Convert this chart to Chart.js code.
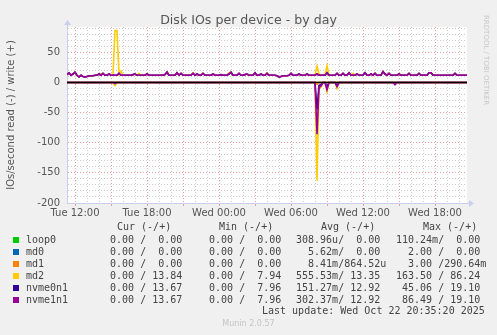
<!DOCTYPE html>
<html>
<head>
<meta charset="utf-8">
<script src="https://cdn.jsdelivr.net/npm/chart.js@4/dist/chart.umd.min.js"></script>
<style>
  body { margin: 0; background: #f0f0f0; }
  #wrap { position: relative; width: 497px; height: 335px; font-family: 'DejaVu Sans', sans-serif; }
  #chart { position: absolute; left: 0; top: 0; }
  .title { position: absolute; left: 0; top: 12px; width: 497px; text-align: center; font-size: 12.6px; color: #555; }
  .side { position: absolute; left: 482px; top: 15px; writing-mode: vertical-rl; font-size: 7px; color: #c8c8c8; }
  .mono { position: absolute; font-family: 'DejaVu Sans Mono', monospace; font-size: 10px; line-height: 12px; color: #444; white-space: pre; }
  .box { position: absolute; width: 6px; height: 6px; }
  .ver { position: absolute; left: 0; width: 497px; top: 319px; text-align: center; font-size: 8px; color: #c4c4c4; }
</style>
</head>
<body>
<div id="wrap">
  <canvas id="chart" width="497" height="335"></canvas>
  <div class="title">Disk IOs per device - by day</div>
  <div class="side">RRDTOOL / TOBI OETIKER</div>
  <div id="legend"></div>
  <div class="mono" style="left:262px;top:305px">Last update: Wed Oct 22 20:35:20 2025</div>
  <div class="ver">Munin 2.0.57</div>
</div>
<script>
// time in minutes since Tue 00:00, 10 minute samples from Tue 11:20 to Wed 20:40
const startMin = 680;
const endMin = 2680;

// writes (+), one line per hour
const nvmeWrite = [
  13, 16, 12, 14,
  17, 12, 9, 12, 10, 9,
  10, 11, 11, 11, 12, 12,
  14, 12, 15, 12, 12, 14,
  12, 12, 12, 12, 15, 12,
  12, 12, 12, 12, 12, 13,
  14, 12, 12, 12, 12, 12,
  14, 12, 12, 12, 12, 12,
  12, 12, 12, 13, 17, 12,
  12, 12, 12, 16, 12, 15,
  12, 12, 12, 12, 12, 15,
  12, 14, 12, 12, 15, 12,
  12, 12, 12, 14, 12, 12,
  12, 13, 12, 12, 12, 14,
  17, 12, 12, 12, 15, 12,
  12, 13, 14, 12, 12, 12,
  16, 12, 12, 14, 12, 12,
  15, 12, 12, 12, 12, 11,
  9, 10, 11, 11, 11, 12,
  15, 12, 12, 12, 14, 12,
  12, 12, 14, 12, 12, 12,
  12, 14, 12, 12, 12, 12,
  16, 12, 12, 12, 12, 15,
  12, 12, 15, 12, 12, 16,
  12, 12, 12, 14, 12, 12,
  12, 16, 12, 12, 14, 12,
  15, 12, 12, 12, 18, 14,
  12, 15, 12, 12, 12, 12,
  14, 12, 12, 12, 12, 15,
  12, 12, 12, 12, 15, 12,
  12, 12, 12, 16, 16, 12,
  12, 12, 12, 12, 12, 12,
  12, 12, 12, 12, 15, 12,
  12, 12, 12, 12, 12
];

const md2Write = [
  13, 16, 12, 14,
  17, 12, 9, 12, 10, 9,
  10, 11, 11, 11, 12, 12,
  14, 14, 15, 12, 12, 14,
  12, 12, 86, 86, 14, 19,
  12, 12, 12, 12, 12, 13,
  14, 12, 15, 12, 12, 12,
  14, 12, 12, 12, 12, 12,
  12, 12, 12, 13, 17, 12,
  12, 12, 12, 16, 12, 15,
  12, 12, 12, 12, 12, 16,
  12, 14, 12, 12, 15, 12,
  12, 12, 12, 14, 12, 12,
  12, 13, 12, 12, 12, 16,
  17, 12, 12, 12, 15, 12,
  12, 13, 14, 12, 12, 12,
  16, 12, 12, 14, 12, 12,
  16, 12, 12, 12, 12, 11,
  9, 10, 11, 11, 11, 12,
  15, 12, 12, 12, 14, 12,
  12, 12, 14, 12, 12, 12,
  12, 27, 14, 12, 12, 12,
  28, 12, 12, 12, 12, 15,
  12, 12, 15, 12, 12, 16,
  12, 15, 12, 14, 12, 12,
  12, 16, 12, 12, 14, 12,
  15, 12, 12, 12, 18, 14,
  12, 15, 12, 12, 12, 12,
  14, 12, 12, 12, 12, 15,
  12, 12, 12, 12, 15, 12,
  12, 12, 12, 16, 16, 12,
  12, 12, 12, 12, 12, 12,
  12, 12, 12, 12, 15, 12,
  12, 12, 12, 12, 12
];

// reads (-), only where something happens
const md2ReadTimes = [680, 910, 920, 930, 1920, 1930, 1940, 1950, 1960, 1970, 1980, 1990, 2020, 2030, 2040, 2680];
const md2ReadVals  = [0, 0, -5, 0, 0, -163, -10, -8, 0, 0, -15, 0, 0, -10, 0, 0];
const nvme1ReadTimes = [680, 910, 920, 930, 1920, 1930, 1940, 1950, 1960, 1970, 1980, 1990, 2020, 2030, 2040, 2310, 2320, 2330, 2680];
const nvme1ReadVals  = [0, 0, -2, 0, 0, -86, -8, -6, 0, 0, -12, 0, 0, -7, 0, 0, -4, 0, 0];
const nvme0ReadTimes = [680, 1920, 1930, 1940, 1950, 1960, 1970, 1980, 1990, 2020, 2030, 2040, 2680];
const nvme0ReadVals  = [0, 0, -45, -5, -4, 0, 0, -8, 0, 0, -5, 0, 0];
const md1ReadTimes = [680, 1920, 1930, 1940, 2680];
const md1ReadVals  = [0, 0, -3, 0, 0];
const md0ReadTimes = [680, 1920, 1930, 1940, 2680];
const md0ReadVals  = [0, 0, -2, 0, 0];
const flatTimes = [680, 2680];
const flatVals  = [0, 0];

const tickTimes = [720, 1080, 1440, 1800, 2160, 2520];
const tickNames = ['Tue 12:00', 'Tue 18:00', 'Wed 00:00', 'Wed 06:00', 'Wed 12:00', 'Wed 18:00'];

// legend table
const names  = ['loop0', 'md0', 'md1', 'md2', 'nvme0n1', 'nvme1n1'];
const colors = ['#00cc00', '#0066b3', '#ff8000', '#ffcc00', '#330099', '#990099'];
const curTxt = ['  0.00 /  0.00', '  0.00 /  0.00', '  0.00 /  0.00', '  0.00 / 13.84', '  0.00 / 13.67', '  0.00 / 13.67'];
const minTxt = ['  0.00 /  0.00', '  0.00 /  0.00', '  0.00 /  0.00', '  0.00 /  7.94', '  0.00 /  7.96', '  0.00 /  7.96'];
const avgTxt = ['308.96u/  0.00', '  5.62m/  0.00', '  8.41m/864.52u', '555.53m/ 13.35', '151.27m/ 12.92', '302.37m/ 12.92'];
const maxTxt = ['110.24m/  0.00', '  2.00 /  0.00', '  3.00 /290.64m', '163.50 / 86.24', ' 45.06 / 19.10', ' 86.49 / 19.10'];

const writeTimes = nvmeWrite.map((_, i) => startMin + i * 10);
const pts = (xs, ys) => xs.map((x, i) => ({ x: x, y: ys[i] }));

function line(color, data, order) {
  return { data: data, borderColor: color, borderWidth: 1.6, pointRadius: 0, tension: 0, order: order };
}

const datasets = [
  line('#000000', pts(flatTimes, flatVals), 0),
  line(colors[5], pts(writeTimes, nvmeWrite), 1),
  line(colors[5], pts(nvme1ReadTimes, nvme1ReadVals), 1),
  line(colors[4], pts(writeTimes, nvmeWrite), 2),
  line(colors[4], pts(nvme0ReadTimes, nvme0ReadVals), 2),
  line(colors[3], pts(writeTimes, md2Write), 3),
  line(colors[3], pts(md2ReadTimes, md2ReadVals), 3),
  line(colors[2], pts(flatTimes, flatVals), 4),
  line(colors[2], pts(md1ReadTimes, md1ReadVals), 4),
  line(colors[1], pts(flatTimes, flatVals), 5),
  line(colors[1], pts(md0ReadTimes, md0ReadVals), 5),
  line(colors[0], pts(flatTimes, flatVals), 6)
];
datasets[0].borderWidth = 1;

const muninBg = {
  id: 'muninBg',
  beforeDraw(chart) {
    const { ctx, chartArea: a } = chart;
    ctx.save();
    ctx.fillStyle = '#f0f0f0';
    ctx.fillRect(0, 0, chart.width, chart.height);
    ctx.fillStyle = '#ffffff';
    ctx.fillRect(a.left, a.top, a.right - a.left, a.bottom - a.top);
    ctx.restore();
  },
  afterDraw(chart) {
    const { ctx, chartArea: a } = chart;
    ctx.save();
    ctx.strokeStyle = '#c9d0ee';
    ctx.fillStyle = '#c9d0ee';
    ctx.lineWidth = 1;
    ctx.beginPath();
    ctx.moveTo(a.left + 0.5, a.top);
    ctx.lineTo(a.left + 0.5, a.top - 3);
    ctx.moveTo(a.right, a.bottom + 0.5);
    ctx.lineTo(a.right + 3, a.bottom + 0.5);
    ctx.stroke();
    ctx.beginPath();
    ctx.moveTo(a.left - 3, a.top - 2);
    ctx.lineTo(a.left + 4, a.top - 2);
    ctx.lineTo(a.left + 0.5, a.top - 7);
    ctx.fill();
    ctx.beginPath();
    ctx.moveTo(a.right + 2, a.bottom - 3);
    ctx.lineTo(a.right + 2, a.bottom + 4);
    ctx.lineTo(a.right + 7, a.bottom + 0.5);
    ctx.fill();
    ctx.restore();
  }
};

new Chart(document.getElementById('chart'), {
  type: 'line',
  data: { datasets: datasets },
  plugins: [muninBg],
  options: {
    responsive: false,
    animation: false,
    devicePixelRatio: 1,
    layout: { padding: { left: 0, right: 30, top: 27, bottom: 112 } },
    plugins: { legend: { display: false }, tooltip: { enabled: false } },
    scales: {
      x: {
        type: 'linear',
        min: startMin,
        max: endMin,
        afterFit: (s) => { s.height = 20; },
        ticks: {
          stepSize: 60,
          includeBounds: false,
          autoSkip: false,
          maxRotation: 0,
          maxTicksLimit: 100,
          padding: 1,
          color: '#555',
          font: { family: 'DejaVu Sans', size: 10 },
          callback: (v) => { const i = tickTimes.indexOf(v); return i >= 0 ? tickNames[i] : ''; }
        },
        grid: {
          color: (c) => c.tick && c.tick.value % 180 === 0 ? '#eaa0a0' : '#cccccc',
          tickColor: (c) => c.tick && c.tick.value % 180 === 0 ? '#eaa0a0' : 'rgba(0,0,0,0)',
          tickLength: 3,
          lineWidth: 1
        },
        border: { display: true, color: '#c9d0ee', dash: [1, 2] }
      },
      y: {
        min: -200,
        max: 92,
        afterFit: (s) => { s.width = 67; },
        ticks: {
          stepSize: 10,
          includeBounds: false,
          autoSkip: false,
          maxTicksLimit: 100,
          padding: 7,
          color: '#555',
          font: { family: 'DejaVu Sans', size: 10 },
          callback: (v) => v % 50 === 0 ? String(v) : ''
        },
        grid: {
          color: (c) => c.tick && c.tick.value % 50 === 0 ? '#eaa0a0' : '#cccccc',
          drawTicks: false,
          lineWidth: 1
        },
        border: { display: true, color: '#c9d0ee', dash: [1, 2] },
        title: {
          display: true,
          text: 'IOs/second read (-) / write (+)',
          color: '#555',
          font: { family: 'DejaVu Sans', size: 10 },
          padding: { top: 5, bottom: 0 }
        }
      }
    }
  }
});

// legend rows
const legend = document.getElementById('legend');
let html = '';
html += '<div class="mono" style="left:117px;top:221px">Cur (-/+)</div>';
html += '<div class="mono" style="left:219px;top:221px">Min (-/+)</div>';
html += '<div class="mono" style="left:321px;top:221px">Avg (-/+)</div>';
html += '<div class="mono" style="left:423px;top:221px">Max (-/+)</div>';
names.forEach((n, i) => {
  const top = 234 + i * 12;
  html += '<div class="box" style="left:13px;top:' + (top + 3) + 'px;background:' + colors[i] + '"></div>';
  html += '<div class="mono" style="left:26px;top:' + top + 'px">' + n + '</div>';
  html += '<div class="mono" style="left:98px;top:' + top + 'px">' + curTxt[i] + '</div>';
  html += '<div class="mono" style="left:197px;top:' + top + 'px">' + minTxt[i] + '</div>';
  html += '<div class="mono" style="left:296px;top:' + top + 'px">' + avgTxt[i] + '</div>';
  html += '<div class="mono" style="left:396px;top:' + top + 'px">' + maxTxt[i] + '</div>';
});
legend.innerHTML = html;
</script>
</body>
</html>
